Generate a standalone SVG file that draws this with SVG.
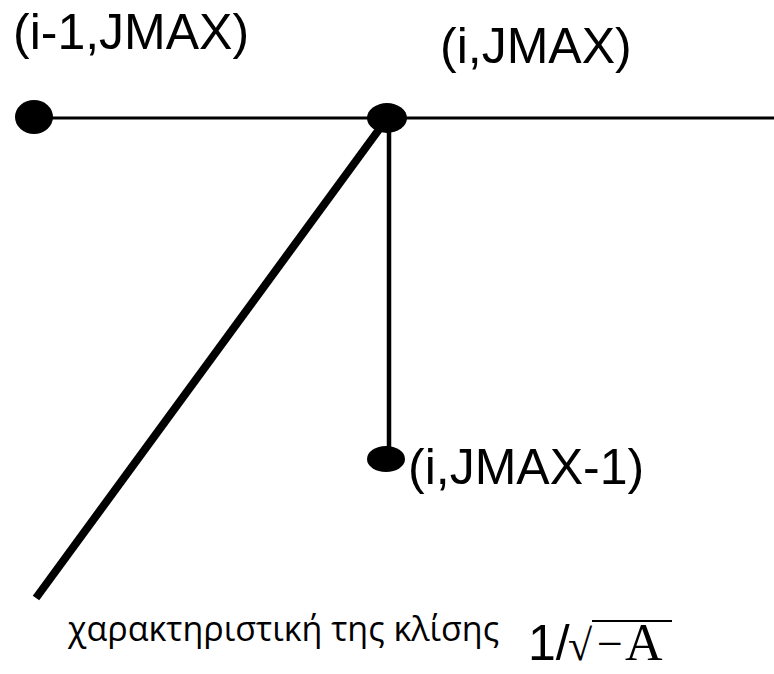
<svg xmlns="http://www.w3.org/2000/svg" width="774" height="674" viewBox="0 0 774 674">
<style>
.lbl{font-family:"Liberation Sans",Arial,sans-serif;font-size:50px;fill:#000}
.gr{font-family:"Open Sans","Noto Sans",sans-serif;font-size:34px;fill:#000}
.m{font-family:"Liberation Serif","Times New Roman",serif;fill:#000}
.dot{fill:#000}
</style>
<rect width="774" height="674" fill="#fff"/>
<g id="connectors" stroke="#000" fill="none">
<line x1="34" y1="118" x2="774" y2="118" stroke-width="3"/>
<line x1="389" y1="120" x2="389" y2="458" stroke-width="4.5"/>
<line x1="383" y1="124" x2="36" y2="598" stroke-width="8"/>
</g>
<g id="n1"><ellipse class="dot" cx="34" cy="117" rx="19" ry="17"/><text class="lbl" x="13" y="49">(i-1,JMAX)</text></g>
<g id="n2"><ellipse class="dot" cx="387" cy="118" rx="20" ry="15"/><text class="lbl" x="440" y="63">(i,JMAX)</text></g>
<g id="n3"><ellipse class="dot" cx="386" cy="459" rx="19" ry="13"/><text class="lbl" x="408" y="484" font-size="51">(i,JMAX-1)</text></g>
<g id="caption">
<text class="gr" x="68" y="641">χαρακτηριστική της κλίσης</text>
<text class="lbl" x="528" y="660" font-size="40">1/</text>
<text class="m" x="568" y="660" font-size="44">√</text>
<line x1="592" y1="621" x2="672" y2="621" stroke="#000" stroke-width="2"/>
<text class="m" x="597" y="659" font-size="46">−</text>
<text class="m" x="625" y="660" font-size="52">A</text>
</g>
</svg>
